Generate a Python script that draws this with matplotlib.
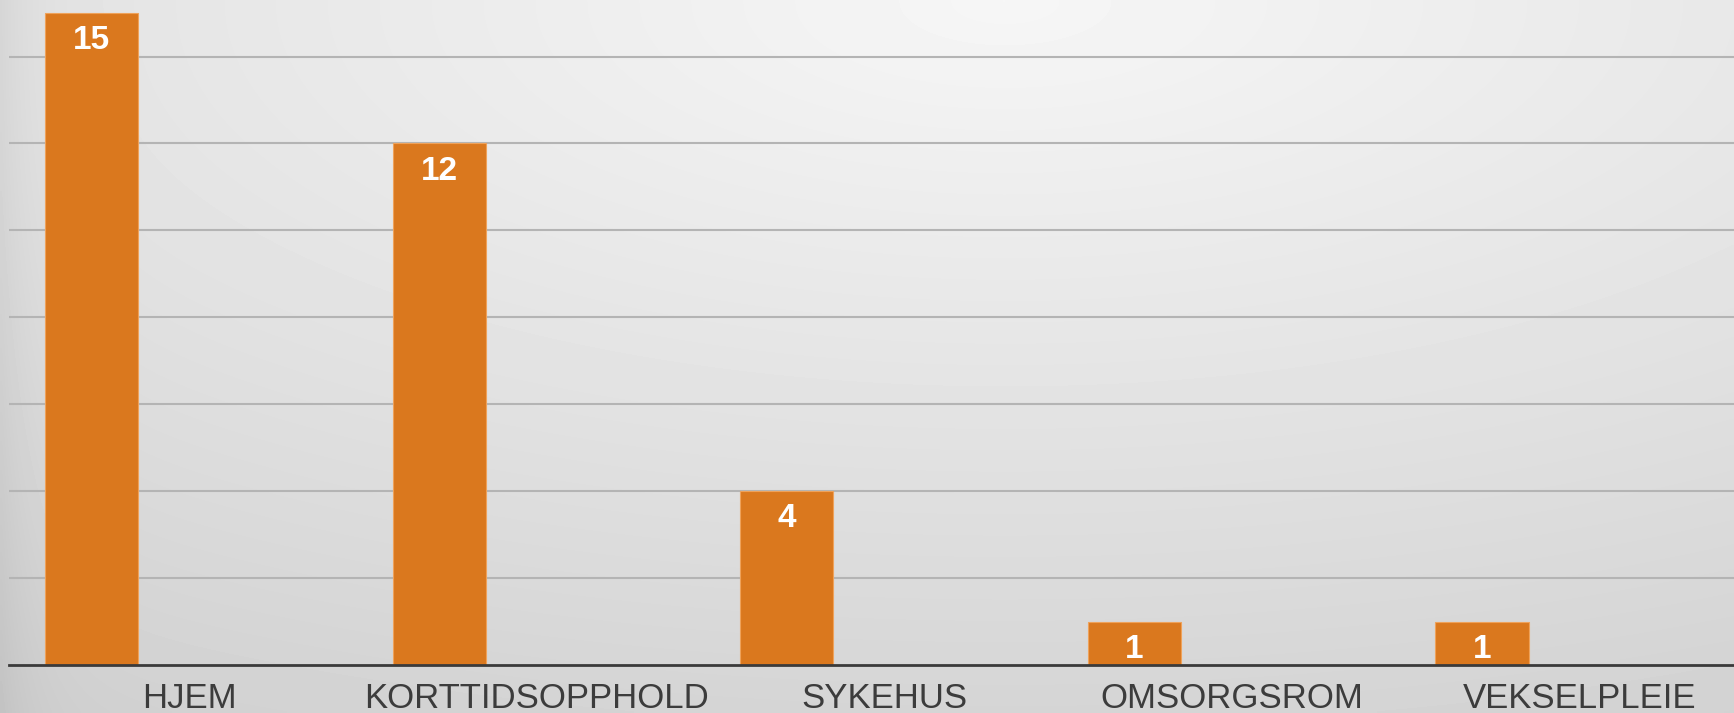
import matplotlib.pyplot as plt
import numpy as np

categories = ['HJEM', 'KORTTIDSOPPHOLD', 'SYKEHUS', 'OMSORGSROM', 'VEKSELPLEIE']
values = [15, 12, 4, 1, 1]

plt.rcParams['font.family'] = ['Liberation Sans', 'DejaVu Sans']

fig = plt.figure(figsize=(17.34, 7.13), dpi=100)

# grey radial-ish background like the slide
bg = fig.add_axes([0, 0, 1, 1], zorder=0)
gx, gy = np.meshgrid(np.linspace(0, 1, 400), np.linspace(0, 1, 200))
r = np.sqrt(((gx - 0.58) / 1.0) ** 2 + ((gy - 1.0) / 1.0) ** 2)
shade = np.clip(0.965 - 0.13 * r - 0.05 * np.exp(-gx / 0.02), 0, 1)
bg.imshow(shade, cmap='gray', vmin=0, vmax=1, origin='lower',
          extent=[0, 1, 0, 1], aspect='auto', interpolation='bilinear')
bg.axis('off')

ax = fig.add_axes([0.0052, 0.0673, 0.9948, 0.9327], zorder=1)
ax.patch.set_alpha(0)

x = np.arange(len(categories))
bars = ax.bar(x, values, width=0.268, color='#DA781E',
              edgecolor='#EFA25A', linewidth=0.8, zorder=3)

for xi, v in zip(x, values):
    ax.annotate(str(v), (xi, v), xytext=(0, -20), textcoords='offset points',
                ha='center', va='center', color='white', fontsize=24,
                fontweight='bold', zorder=4)

ax.set_xlim(-0.238, 4.725)
ax.set_ylim(0, 15.3)

ax.set_yticks(range(2, 15, 2))
ax.yaxis.grid(True, color='#b4b4b4', linewidth=1.5, zorder=1)
ax.tick_params(axis='y', left=False, labelleft=False)

ax.set_xticks(x + 0.28, categories)
ax.tick_params(axis='x', length=0, pad=12, labelsize=25, labelcolor='#3c3c3c')

for s in ['top', 'right', 'left']:
    ax.spines[s].set_visible(False)
ax.spines['bottom'].set_color('#3a3a3a')
ax.spines['bottom'].set_linewidth(2)
ax.spines['bottom'].set_zorder(5)

plt.savefig('out.png', dpi=100)
